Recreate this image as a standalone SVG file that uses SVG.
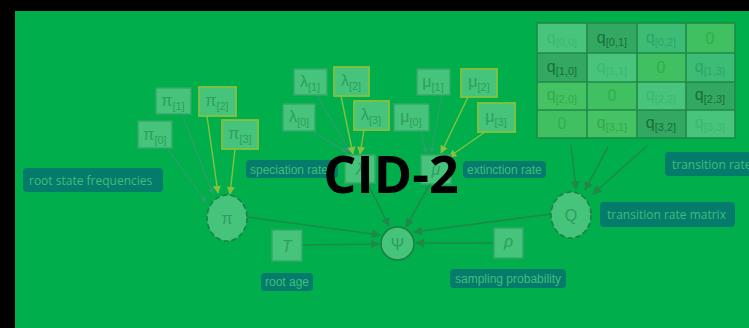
<svg xmlns="http://www.w3.org/2000/svg" width="749" height="328" viewBox="0 0 749 328">
<defs>
<style>
.bg{fill:#00AE4C}
.box{fill:#46C47B;stroke:#35A868;stroke-width:1.5}
.boxy{fill:#46C47B;stroke:#86C23E;stroke-width:1.8}
.nt{font-family:"Liberation Sans",Arial,sans-serif;font-size:16px;fill:#2E9E62;text-anchor:middle}
.sub{font-size:11px}
.lab{fill:#057B6C}
.lt{font-family:"Liberation Sans",Arial,sans-serif;font-size:12px;fill:#3EBE78}
.lt2{font-family:"Open Sans","Liberation Sans",sans-serif;font-size:12px;fill:#3EBE78}
.cy{stroke:#86C23E;stroke-width:1.4;fill:none}
.ct{stroke:#2E9E6A;stroke-width:1.2;fill:none}
.cd{stroke:#1E8A48;stroke-width:1.6;fill:none}
.circ{fill:#46C47B;stroke:#1E7E44;stroke-width:1.6;stroke-dasharray:5,3}
.mt{font-family:"Liberation Sans",Arial,sans-serif;font-size:16px;text-anchor:middle}
.grid{stroke:#1F8A48;stroke-width:1.6}
</style>
<marker id="aY" viewBox="0 0 10 10" refX="9" refY="5" markerWidth="8" markerHeight="8" markerUnits="userSpaceOnUse" orient="auto"><path d="M0,0L10,5L0,10z" fill="#86C23E"/></marker>
<marker id="aT" viewBox="0 0 10 10" refX="9" refY="5" markerWidth="6" markerHeight="6" markerUnits="userSpaceOnUse" orient="auto"><path d="M0,0L10,5L0,10z" fill="#2E9E6A"/></marker>
<marker id="aD" viewBox="0 0 10 10" refX="9" refY="5" markerWidth="9" markerHeight="9" markerUnits="userSpaceOnUse" orient="auto"><path d="M0,0L10,5L0,10z" fill="#1E8A48"/></marker>
</defs>
<rect x="0" y="0" width="749" height="328" fill="#000"/>
<rect class="bg" x="15" y="11" width="734" height="317"/>

<g id="connectors">
<line class="ct" x1="167" y1="148" x2="206" y2="202" marker-end="url(#aT)"/>
<line class="ct" x1="182" y1="114" x2="213" y2="194" marker-end="url(#aT)"/>
<line class="cy" x1="207" y1="116" x2="218" y2="193" marker-end="url(#aY)"/>
<line class="cy" x1="235" y1="149" x2="230" y2="194" marker-end="url(#aY)"/>
<line class="ct" x1="312" y1="131" x2="347" y2="152" marker-end="url(#aT)"/>
<line class="ct" x1="317" y1="95" x2="350" y2="152" marker-end="url(#aT)"/>
<line class="cy" x1="341" y1="96" x2="353" y2="154" marker-end="url(#aY)"/>
<line class="cy" x1="364" y1="130" x2="360" y2="154" marker-end="url(#aY)"/>
<line class="ct" x1="421" y1="131" x2="426" y2="153" marker-end="url(#aT)"/>
<line class="ct" x1="442" y1="95" x2="431" y2="153" marker-end="url(#aT)"/>
<line class="cy" x1="468" y1="97" x2="441" y2="153" marker-end="url(#aY)"/>
<line class="cy" x1="485" y1="132" x2="449" y2="157" marker-end="url(#aY)"/>
<line class="cd" x1="368" y1="184" x2="389" y2="226" marker-end="url(#aD)"/>
<line class="cd" x1="430" y1="184" x2="406" y2="227" marker-end="url(#aD)"/>
<line class="cd" x1="247" y1="217" x2="380" y2="235" marker-end="url(#aD)"/>
<line class="cd" x1="551" y1="214" x2="414" y2="232" marker-end="url(#aD)"/>
<line class="cd" x1="302" y1="245" x2="379" y2="244" marker-end="url(#aD)"/>
<line class="cd" x1="494" y1="243" x2="416" y2="243" marker-end="url(#aD)"/>
<line class="cd" x1="571" y1="145" x2="576" y2="189" marker-end="url(#aD)"/>
<line class="cd" x1="608" y1="147" x2="585" y2="190" marker-end="url(#aD)"/>
<line class="cd" x1="648" y1="145" x2="593" y2="194" marker-end="url(#aD)"/>
</g>

<g id="pi0"><rect class="box" x="138" y="121" width="34" height="27"/><text class="nt" x="155" y="140">π<tspan class="sub" dy="4">[0]</tspan></text></g>
<g id="pi1"><rect class="box" x="156" y="88" width="35" height="26"/><text class="nt" x="173" y="106">π<tspan class="sub" dy="4">[1]</tspan></text></g>
<g id="pi2"><rect class="boxy" x="199" y="87" width="37" height="29"/><text class="nt" x="217" y="106">π<tspan class="sub" dy="4">[2]</tspan></text></g>
<g id="pi3"><rect class="boxy" x="222" y="120" width="36" height="29"/><text class="nt" x="240" y="139">π<tspan class="sub" dy="4">[3]</tspan></text></g>

<g id="lam0"><rect class="box" x="283" y="104" width="32" height="27"/><text class="nt" x="299" y="122">λ<tspan class="sub" dy="4">[0]</tspan></text></g>
<g id="lam1"><rect class="box" x="294" y="69" width="33" height="26"/><text class="nt" x="310" y="87">λ<tspan class="sub" dy="4">[1]</tspan></text></g>
<g id="lam2"><rect class="boxy" x="334" y="67" width="35" height="29"/><text class="nt" x="351" y="86">λ<tspan class="sub" dy="4">[2]</tspan></text></g>
<g id="lam3"><rect class="boxy" x="354" y="101" width="35" height="29"/><text class="nt" x="371" y="120">λ<tspan class="sub" dy="4">[3]</tspan></text></g>

<g id="mu0"><rect class="box" x="394" y="104" width="35" height="27"/><text class="nt" x="411" y="122">μ<tspan class="sub" dy="4">[0]</tspan></text></g>
<g id="mu1"><rect class="box" x="417" y="69" width="33" height="26"/><text class="nt" x="433" y="87">μ<tspan class="sub" dy="4">[1]</tspan></text></g>
<g id="mu2"><rect class="boxy" x="461" y="69" width="36" height="28"/><text class="nt" x="479" y="87">μ<tspan class="sub" dy="4">[2]</tspan></text></g>
<g id="mu3"><rect class="boxy" x="478" y="103" width="37" height="29"/><text class="nt" x="496" y="122">μ<tspan class="sub" dy="4">[3]</tspan></text></g>

<g id="lab-root"><rect class="lab" x="23" y="168" width="140" height="24" rx="4"/><text class="lt2" x="29" y="185" font-size="13">root state frequencies</text></g>
<g id="lab-spec"><rect class="lab" x="246" y="160" width="92" height="18" rx="4"/><text class="lt" x="250" y="174">speciation rate</text></g>
<g id="lab-ext"><rect class="lab" x="463" y="161" width="83" height="17" rx="4"/><text class="lt" x="467" y="174">extinction rate</text></g>
<g id="lab-age"><rect class="lab" x="261" y="273" width="52" height="18" rx="4"/><text class="lt" x="265" y="286">root age</text></g>
<g id="lab-samp"><rect class="lab" x="450" y="269" width="116" height="19" rx="4"/><text class="lt" x="455" y="283">sampling probability</text></g>
<g id="lab-trm"><rect class="lab" x="600" y="202" width="135" height="25" rx="4"/><text class="lt2" x="607" y="219" font-size="13">transition rate matrix</text></g>
<g id="lab-tr"><rect class="lab" x="665" y="152" width="95" height="24" rx="4"/><text class="lt2" x="672" y="169" font-size="13">transition rate</text></g>

<g id="lam"><rect class="box" x="345" y="155" width="30" height="28" stroke="#1E7E44"/><text class="nt" x="360" y="175" font-family="Liberation Serif,serif" font-style="italic" fill="#1E8A48">λ</text></g>
<g id="mu"><rect class="box" x="421" y="155" width="30" height="29" stroke="#1E7E44"/><text class="nt" x="436" y="175" font-family="Liberation Serif,serif" font-style="italic" fill="#1E8A48">μ</text></g>

<g id="pi"><ellipse class="circ" cx="227" cy="218" rx="20" ry="23"/><text class="nt" x="227" y="224" fill="#1E8A48">π</text></g>
<g id="Q"><ellipse class="circ" cx="571" cy="215" rx="20" ry="23"/><text class="nt" x="571" y="221" fill="#1E8A48" font-size="17">Q</text></g>
<g id="psi"><circle cx="397.5" cy="243.5" r="16.5" fill="#46C47B" stroke="#1E7E44" stroke-width="1.6"/><text class="nt" x="397.5" y="250" font-family="Liberation Serif,serif" fill="#1E8A48" font-size="18">Ψ</text></g>
<g id="T"><rect class="box" x="272" y="230" width="30" height="31" stroke="#1E7E44"/><text class="nt" x="287" y="252" font-family="Liberation Serif,serif" font-style="italic" fill="#1E8A48" font-size="19">T</text></g>
<g id="rho"><rect class="box" x="494" y="228" width="29" height="30" stroke="#1E7E44"/><text class="nt" x="508.5" y="247" font-family="Liberation Serif,serif" font-style="italic" fill="#1E8A48" font-size="19">ρ</text></g>

<g id="matrix">
<rect x="537" y="23" width="198" height="115" fill="#2FA85C"/>
<rect x="537" y="23" width="50" height="30" fill="#48C47D"/>
<rect x="587" y="23" width="50" height="30" fill="#33A862"/>
<rect x="637" y="23" width="49" height="30" fill="#3DBC76"/>
<rect x="686" y="23" width="49" height="30" fill="#40C060"/>
<rect x="537" y="53" width="50" height="29" fill="#33A862"/>
<rect x="587" y="53" width="50" height="29" fill="#48C47D"/>
<rect x="637" y="53" width="49" height="29" fill="#40C060"/>
<rect x="686" y="53" width="49" height="29" fill="#3DBC76"/>
<rect x="537" y="82" width="50" height="28" fill="#44C264"/>
<rect x="587" y="82" width="50" height="28" fill="#40C060"/>
<rect x="637" y="82" width="49" height="28" fill="#48C47D"/>
<rect x="686" y="82" width="49" height="28" fill="#33A862"/>
<rect x="537" y="110" width="50" height="28" fill="#40C060"/>
<rect x="587" y="110" width="50" height="28" fill="#44C264"/>
<rect x="637" y="110" width="49" height="28" fill="#33A862"/>
<rect x="686" y="110" width="49" height="28" fill="#48C47D"/>
<g class="grid">
<rect x="537" y="23" width="198" height="115" fill="none"/>
<line x1="587" y1="23" x2="587" y2="138"/><line x1="637" y1="23" x2="637" y2="138"/><line x1="686" y1="23" x2="686" y2="138"/>
<line x1="537" y1="53" x2="735" y2="53"/><line x1="537" y1="82" x2="735" y2="82"/><line x1="537" y1="110" x2="735" y2="110"/>
</g>
<text class="mt" x="562" y="43" fill="#3DB873">q<tspan class="sub" dy="3">[0,0]</tspan></text>
<text class="mt" x="612" y="43" fill="#16703C">q<tspan class="sub" dy="3">[0,1]</tspan></text>
<text class="mt" x="661" y="43" fill="#2BA56A">q<tspan class="sub" dy="3">[0,2]</tspan></text>
<text class="mt" x="710" y="44" fill="#2FB04A">0</text>
<text class="mt" x="562" y="72" fill="#16703C">q<tspan class="sub" dy="3">[1,0]</tspan></text>
<text class="mt" x="612" y="72" fill="#3DB873">q<tspan class="sub" dy="3">[1,1]</tspan></text>
<text class="mt" x="661" y="73" fill="#2FB04A">0</text>
<text class="mt" x="710" y="72" fill="#2BA56A">q<tspan class="sub" dy="3">[1,3]</tspan></text>
<text class="mt" x="562" y="100" fill="#38A848">q<tspan class="sub" dy="3">[2,0]</tspan></text>
<text class="mt" x="612" y="101" fill="#2FB04A">0</text>
<text class="mt" x="661" y="100" fill="#3DB873">q<tspan class="sub" dy="3">[2,2]</tspan></text>
<text class="mt" x="710" y="100" fill="#16703C">q<tspan class="sub" dy="3">[2,3]</tspan></text>
<text class="mt" x="562" y="129" fill="#2FB04A">0</text>
<text class="mt" x="612" y="128" fill="#38A848">q<tspan class="sub" dy="3">[3,1]</tspan></text>
<text class="mt" x="661" y="128" fill="#16703C">q<tspan class="sub" dy="3">[3,2]</tspan></text>
<text class="mt" x="710" y="128" fill="#3DB873">q<tspan class="sub" dy="3">[3,3]</tspan></text>
</g>

<g id="title"><text x="391" y="193" font-family="Open Sans,Liberation Sans,sans-serif" font-weight="700" font-size="52" text-anchor="middle" fill="#000">CID-2</text></g>
</svg>
